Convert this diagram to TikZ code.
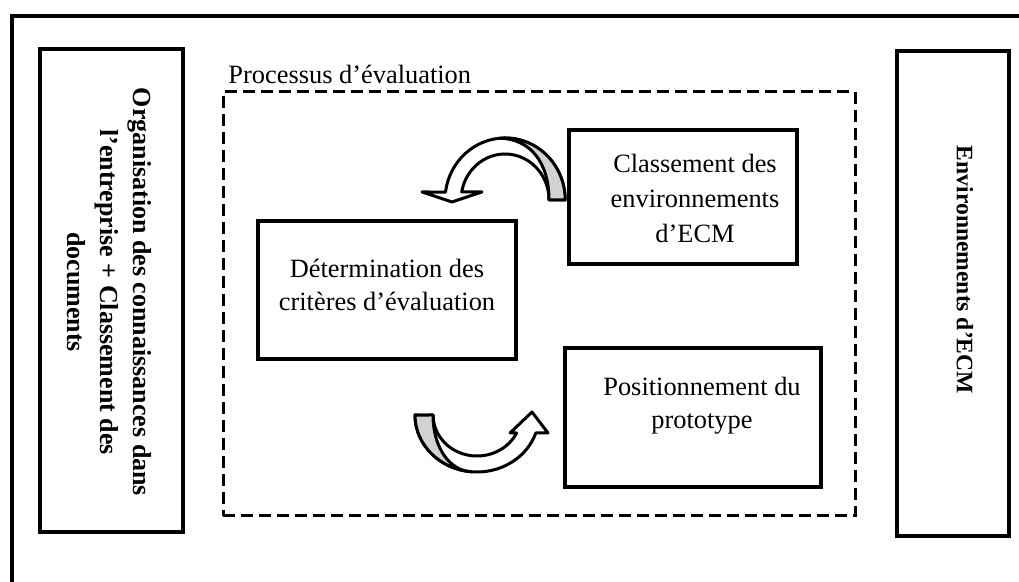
\documentclass[tikz,border=0pt]{standalone}
\usepackage{fontspec}
\setmainfont{Liberation Serif}
\begin{document}
\begin{tikzpicture}[x=0.5pt,y=-0.5pt,
  box/.style={draw, line width=1.8pt, inner sep=0pt},
  txt/.style={font=\fontsize{13.2}{16.5}\selectfont, align=center, inner sep=0pt},
  btxt/.style={font=\bfseries\fontsize{13}{16.5}\selectfont, align=center, inner sep=0pt, rotate=-90},
  dashbox/.style={draw, line width=1.5pt, dash pattern=on 6pt off 3pt, inner sep=0pt},
  ribbon/.style={draw, line width=1.5pt, fill=white, line join=round},
  fold/.style={draw, line width=1.5pt, fill=gray!35, line join=round}]
\useasboundingbox (0,0) rectangle (1019,582);
% outer frame (cropped)
\draw[line width=2pt] (12,582) -- (12,16) -- (1019,16);

% side boxes
\node[box, minimum width=71.5pt, minimum height=241.5pt] (org) at (111.5,290.5) {};
\node[btxt] (orgt) at (109,292) {Organisation des connaissances dans\\l’entreprise + Classement des\\documents};
\node[box, minimum width=56pt, minimum height=242.5pt] (env) at (953,293.5) {};
\node[btxt, font=\bfseries\fontsize{11.8}{14}\selectfont] (envt) at (965,270) {Environnements d’ECM};

% process frame
\node[dashbox, minimum width=316pt, minimum height=212pt] (proc) at (539,304) {};
\node[txt, anchor=base west] (proct) at (228,84) {Processus d’évaluation};

% inner boxes
\node[box, minimum width=129pt, minimum height=69pt] (det) at (387,290) {};
\node[txt] (dett) at (387,285) {Détermination des\\critères d’évaluation};
\node[box, minimum width=114pt, minimum height=67pt] (cls) at (683,197) {};
\node[txt, font=\fontsize{13.2}{17.5}\selectfont] (clst) at (695,198) {Classement des\\environnements\\d’ECM};
\node[box, minimum width=128pt, minimum height=69.5pt] (pos) at (693,417.5) {};
\node[txt] (post) at (702,406) {Positionnement du\\prototype};

% top curved arrow (from Classement to Determination)
\coordinate (c1) at (505,200);
\path[ribbon] (549,200) -- (565,200)
  arc[start angle=0, end angle=-172.6, x radius=60, y radius=62]
  -- (422,192) -- (452,202) -- (482,192) -- (461.7,192)
  arc[start angle=-170, end angle=0, x radius=44, y radius=46] -- cycle;
\path[fold] (549,200) .. controls (549,162) and (530,139) .. (500,138.2)
  arc[start angle=-95, end angle=0, x radius=60, y radius=62] -- cycle;

% bottom curved arrow (from Determination to Positionnement)
\coordinate (c2) at (477,415);
\path[ribbon] (415,415)
  arc[start angle=180, end angle=18.4, x radius=62, y radius=57]
  -- (548,433) -- (532,412) -- (510,433) -- (516.6,433)
  arc[start angle=26, end angle=180, x radius=44, y radius=41] -- cycle;
\path[fold] (433,415) .. controls (433,448) and (450,471) .. (471.6,471.8)
  arc[start angle=95, end angle=180, x radius=62, y radius=57] -- cycle;
\end{tikzpicture}
\end{document}
